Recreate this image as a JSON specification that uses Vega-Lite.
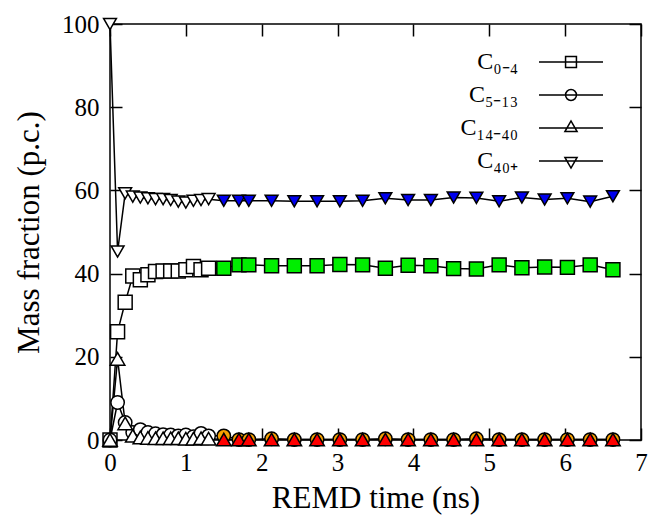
{
  "$schema": "https://vega.github.io/schema/vega-lite/v6.json",
  "width": 531,
  "height": 416,
  "autosize": {"type": "none"},
  "padding": {"left": 110, "top": 24, "right": 7, "bottom": 76},
  "background": "white",
  "config": {
    "view": {"stroke": "black", "strokeWidth": 1.5},
    "axis": {"domain": false, "grid": false, "tickColor": "black", "tickWidth": 1.5, "tickSize": -12, "labelFlush": false,
      "labelFont": "Liberation Serif", "labelFontSize": 25, "labelColor": "black",
      "titleFont": "Liberation Serif", "titleFontSize": 31, "titleFontWeight": "normal", "titleColor": "black"}
  },
  "data": {"values": [
    {"t":0,"v":0,"s":"C₀₋₄"},{"t":0.1,"v":26,"s":"C₀₋₄"},{"t":0.2,"v":33.1,"s":"C₀₋₄"},{"t":0.3,"v":39.4,"s":"C₀₋₄"},{"t":0.4,"v":38.5,"s":"C₀₋₄"},{"t":0.5,"v":39.7,"s":"C₀₋₄"},{"t":0.6,"v":40.5,"s":"C₀₋₄"},{"t":0.7,"v":40.6,"s":"C₀₋₄"},{"t":0.8,"v":40.6,"s":"C₀₋₄"},{"t":0.9,"v":40.6,"s":"C₀₋₄"},{"t":1.0,"v":40.9,"s":"C₀₋₄"},{"t":1.1,"v":41.7,"s":"C₀₋₄"},{"t":1.2,"v":40.9,"s":"C₀₋₄"},{"t":1.3,"v":41.3,"s":"C₀₋₄"},
    {"t":1.5,"v":41.3,"s":"C₀₋₄"},{"t":1.7,"v":42.1,"s":"C₀₋₄"},{"t":1.83,"v":42.1,"s":"C₀₋₄"},{"t":2.13,"v":41.9,"s":"C₀₋₄"},{"t":2.43,"v":41.9,"s":"C₀₋₄"},{"t":2.73,"v":41.9,"s":"C₀₋₄"},{"t":3.03,"v":42.2,"s":"C₀₋₄"},{"t":3.33,"v":42.1,"s":"C₀₋₄"},{"t":3.63,"v":41.3,"s":"C₀₋₄"},{"t":3.93,"v":42.0,"s":"C₀₋₄"},{"t":4.23,"v":41.9,"s":"C₀₋₄"},{"t":4.53,"v":41.2,"s":"C₀₋₄"},{"t":4.83,"v":41.1,"s":"C₀₋₄"},{"t":5.13,"v":42.1,"s":"C₀₋₄"},{"t":5.43,"v":41.4,"s":"C₀₋₄"},{"t":5.73,"v":41.6,"s":"C₀₋₄"},{"t":6.03,"v":41.5,"s":"C₀₋₄"},{"t":6.33,"v":42.1,"s":"C₀₋₄"},{"t":6.63,"v":40.9,"s":"C₀₋₄"},
    {"t":0,"v":0,"s":"C₅₋₁₃"},{"t":0.1,"v":9,"s":"C₅₋₁₃"},{"t":0.2,"v":4.2,"s":"C₅₋₁₃"},{"t":0.3,"v":1.8,"s":"C₅₋₁₃"},{"t":0.4,"v":2.5,"s":"C₅₋₁₃"},{"t":0.5,"v":1.8,"s":"C₅₋₁₃"},{"t":0.6,"v":1.5,"s":"C₅₋₁₃"},{"t":0.7,"v":1.3,"s":"C₅₋₁₃"},{"t":0.8,"v":1.2,"s":"C₅₋₁₃"},{"t":0.9,"v":1.0,"s":"C₅₋₁₃"},{"t":1.0,"v":1.2,"s":"C₅₋₁₃"},{"t":1.1,"v":0.8,"s":"C₅₋₁₃"},{"t":1.2,"v":1.6,"s":"C₅₋₁₃"},{"t":1.3,"v":1.0,"s":"C₅₋₁₃"},
    {"t":1.5,"v":1.0,"s":"C₅₋₁₃"},{"t":1.7,"v":0.1,"s":"C₅₋₁₃"},{"t":1.83,"v":0.1,"s":"C₅₋₁₃"},{"t":2.13,"v":0.3,"s":"C₅₋₁₃"},{"t":2.43,"v":0.1,"s":"C₅₋₁₃"},{"t":2.73,"v":0.1,"s":"C₅₋₁₃"},{"t":3.03,"v":0.1,"s":"C₅₋₁₃"},{"t":3.33,"v":0.1,"s":"C₅₋₁₃"},{"t":3.63,"v":0.3,"s":"C₅₋₁₃"},{"t":3.93,"v":0.1,"s":"C₅₋₁₃"},{"t":4.23,"v":0.1,"s":"C₅₋₁₃"},{"t":4.53,"v":0.1,"s":"C₅₋₁₃"},{"t":4.83,"v":0.3,"s":"C₅₋₁₃"},{"t":5.13,"v":0.1,"s":"C₅₋₁₃"},{"t":5.43,"v":0.1,"s":"C₅₋₁₃"},{"t":5.73,"v":0.1,"s":"C₅₋₁₃"},{"t":6.03,"v":0.1,"s":"C₅₋₁₃"},{"t":6.33,"v":0.1,"s":"C₅₋₁₃"},{"t":6.63,"v":0.1,"s":"C₅₋₁₃"},
    {"t":0,"v":0,"s":"C₁₄₋₄₀"},{"t":0.1,"v":19.5,"s":"C₁₄₋₄₀"},{"t":0.2,"v":4.0,"s":"C₁₄₋₄₀"},{"t":0.3,"v":1.0,"s":"C₁₄₋₄₀"},{"t":0.4,"v":0.6,"s":"C₁₄₋₄₀"},{"t":0.5,"v":0.5,"s":"C₁₄₋₄₀"},{"t":0.6,"v":0.4,"s":"C₁₄₋₄₀"},{"t":0.7,"v":0.4,"s":"C₁₄₋₄₀"},{"t":0.8,"v":0.4,"s":"C₁₄₋₄₀"},{"t":0.9,"v":0.4,"s":"C₁₄₋₄₀"},{"t":1.0,"v":0.3,"s":"C₁₄₋₄₀"},{"t":1.1,"v":0.3,"s":"C₁₄₋₄₀"},{"t":1.2,"v":0.4,"s":"C₁₄₋₄₀"},{"t":1.3,"v":0.3,"s":"C₁₄₋₄₀"},
    {"t":1.5,"v":0.1,"s":"C₁₄₋₄₀"},{"t":1.7,"v":0.1,"s":"C₁₄₋₄₀"},{"t":1.83,"v":0.1,"s":"C₁₄₋₄₀"},{"t":2.13,"v":0.1,"s":"C₁₄₋₄₀"},{"t":2.43,"v":0.1,"s":"C₁₄₋₄₀"},{"t":2.73,"v":0.1,"s":"C₁₄₋₄₀"},{"t":3.03,"v":0.1,"s":"C₁₄₋₄₀"},{"t":3.33,"v":0.1,"s":"C₁₄₋₄₀"},{"t":3.63,"v":0.1,"s":"C₁₄₋₄₀"},{"t":3.93,"v":0.1,"s":"C₁₄₋₄₀"},{"t":4.23,"v":0.1,"s":"C₁₄₋₄₀"},{"t":4.53,"v":0.1,"s":"C₁₄₋₄₀"},{"t":4.83,"v":0.1,"s":"C₁₄₋₄₀"},{"t":5.13,"v":0.1,"s":"C₁₄₋₄₀"},{"t":5.43,"v":0.1,"s":"C₁₄₋₄₀"},{"t":5.73,"v":0.1,"s":"C₁₄₋₄₀"},{"t":6.03,"v":0.1,"s":"C₁₄₋₄₀"},{"t":6.33,"v":0.1,"s":"C₁₄₋₄₀"},{"t":6.63,"v":0.1,"s":"C₁₄₋₄₀"},
    {"t":0,"v":100,"s":"C₄₀₊"},{"t":0.1,"v":45.3,"s":"C₄₀₊"},{"t":0.2,"v":59.3,"s":"C₄₀₊"},{"t":0.3,"v":58.5,"s":"C₄₀₊"},{"t":0.4,"v":58.3,"s":"C₄₀₊"},{"t":0.5,"v":58.1,"s":"C₄₀₊"},{"t":0.6,"v":57.9,"s":"C₄₀₊"},{"t":0.7,"v":57.9,"s":"C₄₀₊"},{"t":0.8,"v":57.7,"s":"C₄₀₊"},{"t":0.9,"v":57.3,"s":"C₄₀₊"},{"t":1.0,"v":57.1,"s":"C₄₀₊"},{"t":1.1,"v":57.5,"s":"C₄₀₊"},{"t":1.2,"v":57.7,"s":"C₄₀₊"},{"t":1.3,"v":57.9,"s":"C₄₀₊"},
    {"t":1.5,"v":57.5,"s":"C₄₀₊"},{"t":1.7,"v":57.5,"s":"C₄₀₊"},{"t":1.83,"v":57.5,"s":"C₄₀₊"},{"t":2.13,"v":57.5,"s":"C₄₀₊"},{"t":2.43,"v":57.4,"s":"C₄₀₊"},{"t":2.73,"v":57.4,"s":"C₄₀₊"},{"t":3.03,"v":57.4,"s":"C₄₀₊"},{"t":3.33,"v":57.5,"s":"C₄₀₊"},{"t":3.63,"v":58.1,"s":"C₄₀₊"},{"t":3.93,"v":57.7,"s":"C₄₀₊"},{"t":4.23,"v":57.7,"s":"C₄₀₊"},{"t":4.53,"v":58.3,"s":"C₄₀₊"},{"t":4.83,"v":58.2,"s":"C₄₀₊"},{"t":5.13,"v":57.4,"s":"C₄₀₊"},{"t":5.43,"v":58.3,"s":"C₄₀₊"},{"t":5.73,"v":57.8,"s":"C₄₀₊"},{"t":6.03,"v":58.1,"s":"C₄₀₊"},{"t":6.33,"v":57.3,"s":"C₄₀₊"},{"t":6.63,"v":58.6,"s":"C₄₀₊"}
  ]},
  "layer": [
    {
      "mark": {"type": "line", "color": "black", "strokeWidth": 1.5},
      "encoding": {
        "x": {"field": "t", "type": "quantitative", "scale": {"domain": [0, 7], "nice": false},
          "axis": {"orient": "bottom", "title": "REMD time (ns)", "values": [0,1,2,3,4,5,6,7], "format": "d", "labelPadding": 22, "titlePadding": 8}},
        "y": {"field": "v", "type": "quantitative", "scale": {"domain": [0, 100], "nice": false},
          "axis": {"orient": "left", "title": "Mass fraction (p.c.)", "values": [0,20,40,60,80,100], "format": "d", "labelPadding": 23, "titlePadding": 16}},
        "detail": {"field": "s"}
      }
    },
    {
      "mark": {"type": "point", "filled": true, "stroke": "black", "strokeWidth": 1.5, "opacity": 1},
      "encoding": {
        "x": {"field": "t", "type": "quantitative", "axis": {"orient": "top", "labels": false, "title": null, "values": [0,1,2,3,4,5,6,7]}},
        "y": {"field": "v", "type": "quantitative", "axis": {"orient": "right", "labels": false, "title": null, "values": [0,20,40,60,80,100]}},
        "shape": {"field": "s", "type": "nominal",
          "scale": {"domain": ["C₀₋₄","C₅₋₁₃","C₁₄₋₄₀","C₄₀₊"], "range": ["square","circle","triangle-up","triangle-down"]},
          "legend": null},
        "fill": {"condition": {"test": "datum.t < 1.4", "value": "white"}, "field": "s", "type": "nominal",
          "scale": {"domain": ["C₅₋₁₃","C₀₋₄","C₁₄₋₄₀","C₄₀₊"], "range": ["#f5a000","#00ee00","#ff0000","#0000ee"]}, "legend": null},
        "size": {"field": "s", "type": "nominal",
          "scale": {"domain": ["C₁₄₋₄₀","C₀₋₄","C₅₋₁₃","C₄₀₊"], "range": [210, 165, 165, 210]}, "legend": null}
      }
    },
    {
      "transform": [{"filter": "false"}],
      "mark": {"type": "point", "filled": false, "color": "black", "stroke": "black", "strokeWidth": 1.5},
      "encoding": {
        "x": {"field": "t", "type": "quantitative", "axis": null},
        "y": {"field": "v", "type": "quantitative", "axis": null},
        "shape": {"field": "s", "type": "nominal",
          "scale": {"domain": ["C₀₋₄","C₅₋₁₃","C₁₄₋₄₀","C₄₀₊"],
            "range": ["M-2,0H2M-0.34,-0.34H0.34V0.34H-0.34Z",
                      "M-2,0H2M0.34,0A0.34,0.34,0,1,1,-0.34,0A0.34,0.34,0,1,1,0.34,0Z",
                      "M-2,0H2M-0.38,0.22L0.38,0.22L0,-0.44Z",
                      "M-2,0H2M-0.38,-0.22L0.38,-0.22L0,0.44Z"]},
          "legend": {"title": null, "orient": "none", "legendX": 444, "legendY": 21, "padding": 0,
            "labelFont": "Liberation Serif", "labelFontSize": 24, "labelColor": "black", "labelAlign": "right", "labelOffset": -70, "labelLimit": 300,
            "symbolSize": 1024, "symbolStrokeColor": "black", "symbolFillColor": "transparent", "symbolStrokeWidth": 1.5, "symbolOpacity": 1,
            "rowPadding": 4}}
      }
    }
  ],
  "resolve": {"axis": {"x": "independent", "y": "independent"}, "scale": {"shape": "independent"}}
}
